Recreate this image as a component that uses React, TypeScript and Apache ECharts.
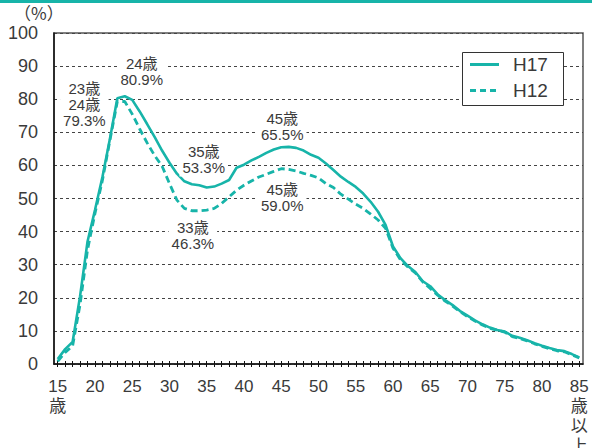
import React, { useEffect, useRef } from "react";
import * as echarts from "echarts";

const ages = [
  "15","16","17","18","19","20","21","22","23","24","25","26","27","28","29",
  "30","31","32","33","34","35","36","37","38","39","40","41","42","43","44",
  "45","46","47","48","49","50","51","52","53","54","55","56","57","58","59",
  "60","61","62","63","64","65","66","67","68","69","70","71","72","73","74",
  "75","76","77","78","79","80","81","82","83","84","85",
];

const h17 = [
  1.5, 4.5, 6.7, 20.5, 37, 46.5, 56.5, 68, 80.3, 80.9, 79.8, 76.3, 72.5, 68.6, 64.5,
  60.8, 57.5, 55.2, 54.3, 54.0, 53.3, 53.6, 54.5, 55.6, 59.3, 60.2, 61.5, 62.6, 63.8, 64.8,
  65.5, 65.6, 65.3, 64.5, 63.2, 62.3, 60.6, 58.6, 56.6, 55.0, 53.5, 51.5, 49.0, 46.0, 42.0,
  35.5, 32.0, 29.6, 27.8, 25.0, 23.5, 21.0, 19.3, 17.8, 16.0, 14.6, 13.2, 12.0, 11.0, 10.3,
  9.8, 8.5, 7.9, 7.2, 6.3, 5.5, 4.8, 4.2, 3.9, 3.0, 2.0,
];

const h12 = [
  0.8, 3.5, 5.5, 18, 34.5, 45.5, 55.5, 67.5, 79.3, 79.3, 75.5, 71.0, 66.8, 63.0, 59.8,
  54.5, 49.5, 47.0, 46.3, 46.3, 46.5, 47.0, 48.5, 50.5, 52.5, 54.0, 55.3, 56.5, 57.3, 58.2,
  59.0, 58.8, 58.3, 57.6, 57.0, 56.2, 54.5, 53.3, 51.3, 49.8, 48.3, 47.0, 45.3, 43.5, 41.0,
  35.0, 31.5, 29.3, 27.5, 24.8, 22.8, 20.8, 19.0, 17.5, 15.8, 14.3, 13.0, 11.8, 10.8, 10.2,
  9.6, 8.3, 7.7, 7.0, 6.1, 5.3, 4.6, 4.0, 3.7, 2.8, 1.8,
];

const seriesNames = ["H17", "H12"];

const notesH17 = [
  { age: "24", value: 80.9, text: "24歳\n80.9%" },
  { age: "35", value: 53.3, text: "35歳\n53.3%" },
  { age: "45", value: 65.5, text: "45歳\n65.5%" },
];
const notesH12 = [
  { age: "23", value: 79.3, text: "23歳\n24歳\n79.3%" },
  { age: "33", value: 46.3, text: "33歳\n46.3%" },
  { age: "45", value: 59.0, text: "45歳\n59.0%" },
];

const yTicks = [0, 10, 20, 30, 40, 50, 60, 70, 80, 90, 100];

const FONT = "'Liberation Sans',Arial,'Noto Sans CJK JP',sans-serif";
const TEAL = "#17b4a9";
const TEXT = "#3a3a3a";

export default function App() {
  const ref = useRef<HTMLDivElement>(null);
  useEffect(() => {
    document.body.style.margin = "0";
    const chart = echarts.init(ref.current!, null, { renderer: "svg" });

    const mark = (items: any[], offsets: number[][]) => ({
      symbol: "circle",
      symbolSize: 1,
      itemStyle: { color: "rgba(0,0,0,0)" },
      label: {
        show: true,
        position: "inside",
        color: TEXT,
        fontSize: 15,
        fontFamily: FONT,
        lineHeight: 16,
        backgroundColor: "#fff",
        padding: [1, 3],
      },
      data: items.map((a, i) => ({
        coord: [a.age, a.value],
        label: { formatter: a.text, offset: offsets[i] },
      })),
    });

    const labelFmt = (v: string) => {
      if (v === "15") return "15\n歳";
      if (v === "85") return "85\n歳\n以\n上";
      return v;
    };

    chart.setOption({
      animation: false,
      textStyle: { fontFamily: FONT },
      grid: {
        left: 54,
        right: 9,
        top: 33,
        bottom: 84,
        show: true,
        borderColor: "#555",
        borderWidth: 1.5,
        outerBoundsMode: "none",
        containLabel: false,
      },
      graphic: [
        { type: "rect", left: 0, top: 0, shape: { width: 592, height: 3 }, style: { fill: TEAL } },
        {
          type: "text",
          x: 14,
          y: 4,
          style: { text: "（%）", fontSize: 17, fill: TEXT, fontFamily: "'Noto Sans CJK JP',sans-serif" },
        },
        {
          type: "rect",
          z: 10,
          shape: { x: 462.5, y: 52.5, width: 101, height: 53 },
          style: { fill: "#fff", stroke: "#333", lineWidth: 1 },
        },
        {
          type: "line",
          z: 11,
          shape: { x1: 470, y1: 64.5, x2: 499, y2: 64.5 },
          style: { stroke: TEAL, lineWidth: 3 },
        },
        {
          type: "line",
          z: 11,
          shape: { x1: 470, y1: 90.5, x2: 499, y2: 90.5 },
          style: { stroke: TEAL, lineWidth: 3, lineDash: [6, 4] },
        },
        {
          type: "text",
          z: 11,
          x: 513,
          y: 64.5,
          style: { text: seriesNames[0], fontSize: 19, fill: TEXT, fontFamily: FONT, verticalAlign: "middle" },
        },
        {
          type: "text",
          z: 11,
          x: 513,
          y: 90.5,
          style: { text: seriesNames[1], fontSize: 19, fill: TEXT, fontFamily: FONT, verticalAlign: "middle" },
        },
      ],
      xAxis: [
        {
          type: "category",
          data: ages,
          boundaryGap: true,
          axisLine: { lineStyle: { color: "#111", width: 1.5 } },
          axisTick: { show: true, alignWithLabel: true, interval: 0, length: 3, lineStyle: { color: "#111" } },
          axisLabel: {
            interval: (idx: number) => idx % 5 === 0,
            formatter: labelFmt,
            color: TEXT,
            fontSize: 17,
            lineHeight: 20,
            margin: 12,
            fontFamily: FONT,
          },
          splitLine: { show: false },
        },
        {
          type: "category",
          data: ages,
          position: "bottom",
          boundaryGap: true,
          axisLine: { show: false },
          axisTick: { show: true, inside: true, alignWithLabel: true, interval: 0, length: 3, lineStyle: { color: "#111" } },
          axisLabel: { show: false },
          splitLine: { show: false },
        },
      ],
      yAxis: {
        type: "value",
        min: yTicks[0],
        max: yTicks[yTicks.length - 1],
        interval: 10,
        axisLine: { show: true, lineStyle: { color: "#111", width: 1.5 } },
        axisTick: { show: false },
        axisLabel: { color: TEXT, fontSize: 18, margin: 16, fontFamily: FONT },
        splitLine: { show: true, lineStyle: { color: "#444", type: [3, 3], width: 1 } },
      },
      series: [
        {
          name: seriesNames[0],
          type: "line",
          data: h17,
          symbol: "none",
          lineStyle: { color: TEAL, width: 2.6 },
          itemStyle: { color: TEAL },
          z: 3,
          markPoint: mark(notesH17, [[17, -25], [-3, -28], [1, -21]]),
        },
        {
          name: seriesNames[1],
          type: "line",
          data: h12,
          symbol: "none",
          lineStyle: { color: TEAL, width: 2.8, type: [7, 4] },
          itemStyle: { color: TEAL },
          z: 2,
          markPoint: mark(notesH12, [[-33, 3], [1, 25], [1, 29]]),
        },
      ],
    });
    return () => chart.dispose();
  }, []);
  return <div ref={ref} style={{ width: 592, height: 448 }} />;
}
